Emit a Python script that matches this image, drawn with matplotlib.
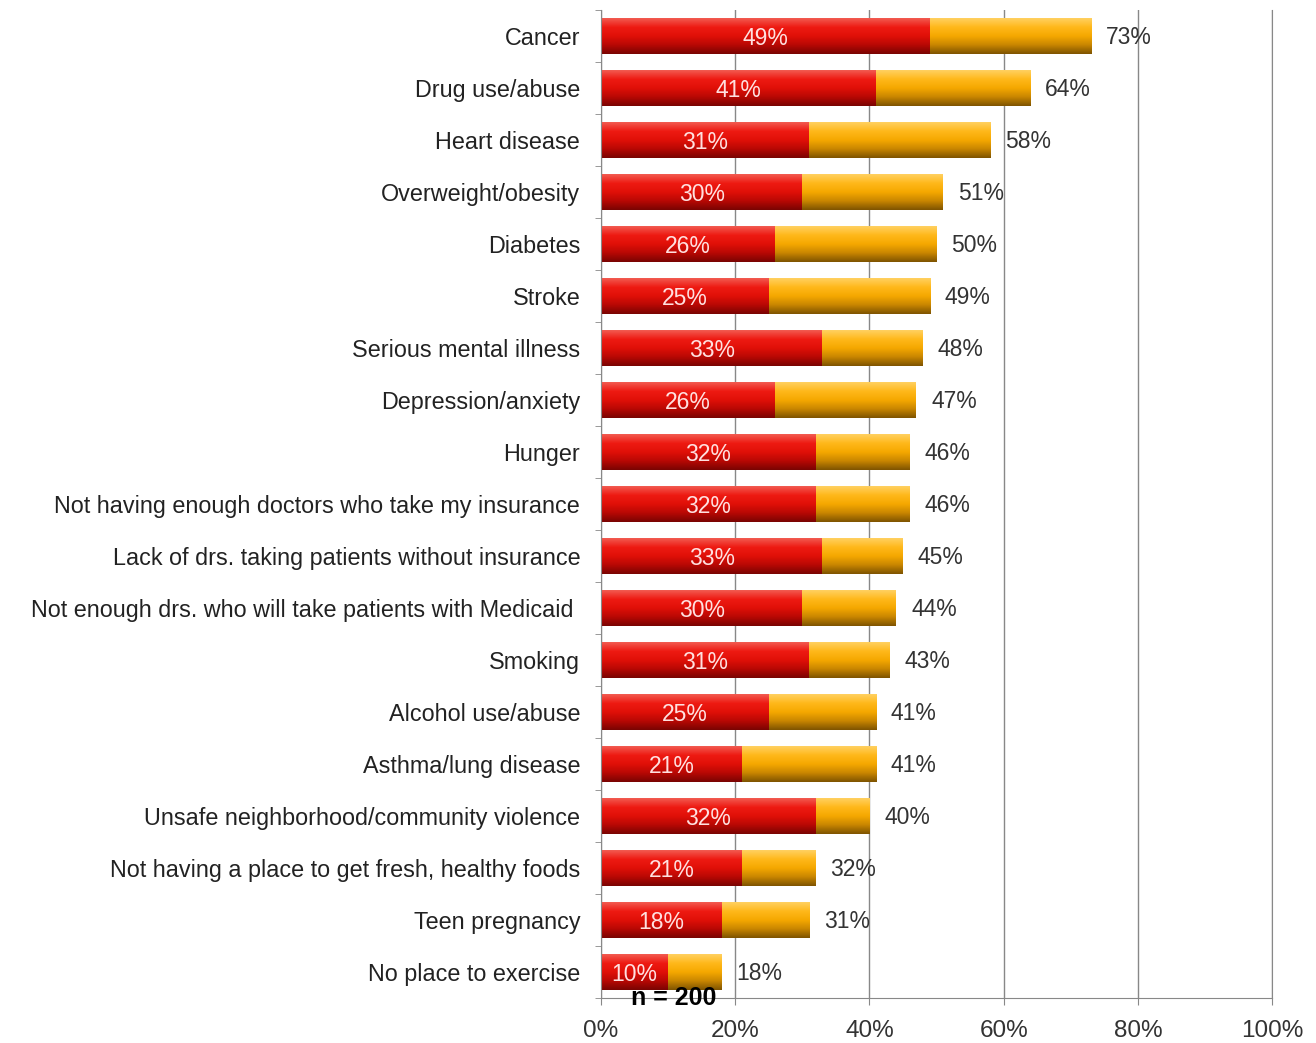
import numpy as np
import matplotlib
matplotlib.use("Agg")
import matplotlib.pyplot as plt
from matplotlib.colors import LinearSegmentedColormap
from matplotlib.ticker import FixedLocator

categories = [
    "Cancer", "Drug use/abuse", "Heart disease", "Overweight/obesity",
    "Diabetes", "Stroke", "Serious mental illness", "Depression/anxiety",
    "Hunger", "Not having enough doctors who take my insurance",
    "Lack of drs. taking patients without insurance",
    "Not enough drs. who will take patients with Medicaid ",
    "Smoking", "Alcohol use/abuse", "Asthma/lung disease",
    "Unsafe neighborhood/community violence",
    "Not having a place to get fresh, healthy foods",
    "Teen pregnancy", "No place to exercise",
]
major_pct = [49, 41, 31, 30, 26, 25, 33, 26, 32, 32, 33, 30, 31, 25, 21, 32, 21, 18, 10]
total_pct = [73, 64, 58, 51, 50, 49, 48, 47, 46, 46, 45, 44, 43, 41, 41, 40, 32, 31, 18]
x_ticks = [0, 20, 40, 60, 80, 100]
sample_note = "n = 200"

plt.rcParams['font.family'] = ['Liberation Sans', 'DejaVu Sans']

fig = plt.figure(figsize=(13.16, 10.43), dpi=100)
ax = fig.add_axes([0.4567, 0.0431, 0.5099, 0.9473])

red_cmap = LinearSegmentedColormap.from_list(
    "red_bar", ["#f25a50", "#ee1a12", "#e01008", "#b80804", "#7a0402"])
orange_cmap = LinearSegmentedColormap.from_list(
    "orange_bar", ["#ffd060", "#ffb81a", "#f5a800", "#c98600", "#7f5400"])

bar_h = 0.69
grad = np.linspace(0, 1, 64).reshape(-1, 1)

def gradient_bar(left, right, y, cmap):
    ax.imshow(grad, cmap=cmap, aspect="auto", interpolation="bilinear",
              extent=(left, right, y + bar_h / 2, y - bar_h / 2), zorder=2)

grid_col = "#888888"
ys = np.arange(len(categories))
for y, m, t in zip(ys, major_pct, total_pct):
    gradient_bar(0, m, y, red_cmap)
    gradient_bar(m, t, y, orange_cmap)
    ax.text(m / 2, y + 0.04, f"{m}%", ha="center", va="center",
            color="#ffe0e0", fontsize=16.5, zorder=3)
    ax.text(t + 2.2, y + 0.02, f"{t}%", ha="left", va="center",
            color="#333333", fontsize=16.5, zorder=3)

ax.set_xlim(0, 100)
ax.set_ylim(len(categories) - 0.5, -0.5)

ax.set_xticks(x_ticks)
ax.set_xticklabels([f"{v}%" for v in x_ticks], fontsize=17.5, color="#333333")
ax.grid(axis="x", color=grid_col, linewidth=1, zorder=0)
ax.set_axisbelow(True)

ax.set_yticks(ys)
ax.set_yticklabels(categories, fontsize=16.8, color="#222222")
ax.yaxis.set_minor_locator(FixedLocator(np.arange(-0.5, len(categories), 1)))
ax.tick_params(axis="y", which="major", length=0, pad=15)
ax.tick_params(axis="y", which="minor", length=4, color=grid_col)
ax.tick_params(axis="x", length=5, color=grid_col, pad=11)

ax.spines["top"].set_visible(False)
for side in ("left", "bottom", "right"):
    ax.spines[side].set_color(grid_col)

ax.text(10.9, 18.5, sample_note, ha="center", va="center",
        fontsize=18, fontweight="bold", color="black", zorder=4)

fig.savefig("out.png", dpi=100)
